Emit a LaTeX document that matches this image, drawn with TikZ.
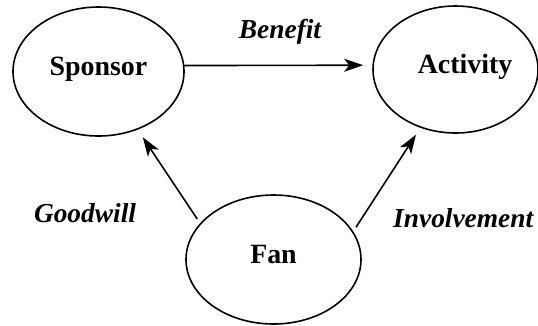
\documentclass[tikz,border=0pt]{standalone}
\usepackage{fontspec}
\setmainfont{Liberation Serif}[BoldFont={Liberation Serif Bold},BoldItalicFont={Liberation Serif Bold Italic}]
\newfontfamily\tmsfont{Liberation Serif}
\usetikzlibrary{arrows.meta,shapes.geometric}
\begin{document}
\begin{tikzpicture}[x=1bp,y=-1bp,
  ell/.style={draw, ellipse, line width=1.6bp, inner sep=0pt, outer sep=0pt,
    text height=18bp, text depth=10bp,
    font=\tmsfont\fontsize{28}{32}\selectfont\bfseries},
  lab/.style={anchor=base, inner sep=0pt, font=\tmsfont\fontsize{27.5}{32}\selectfont\bfseries\itshape},
  arr/.style={line width=1.6bp, -{Stealth[length=19bp,width=13bp,inset=5bp]}}]
\useasboundingbox (0,0) rectangle (538,325);
\node[ell, minimum width=171bp, minimum height=129bp] (spon) at (98.5,71.5) {Sponsor};
\node[ell, minimum width=165bp, minimum height=127bp] (act) at (455.5,69.5) {\hspace*{19bp}Activity};
\node[ell, minimum width=175bp, minimum height=129bp] (fan) at (273.5,259.5) {Fan};
\draw[arr, shorten >=10bp] (spon.4) -- (act.177);
\draw[arr, shorten <=6bp, shorten >=10bp] (fan.154.5) -- (spon.304.2);
\draw[arr, shorten <=6bp, shorten >=9bp] (fan.19.2) -- (act.239.6);
\node[lab] (ben) at (280,38) {Benefit};
\node[lab] (good) at (85,222) {Goodwill};
\node[lab, anchor=base west] (inv) at (393,227) {Involvement};
\end{tikzpicture}
\end{document}
